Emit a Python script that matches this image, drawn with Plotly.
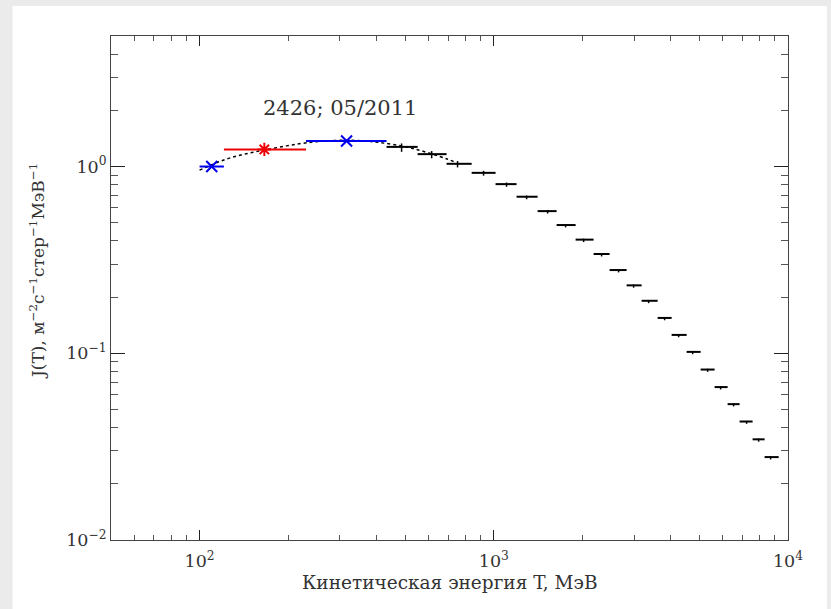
import plotly.graph_objects as go

# --- black points: energy bins (MeV), intensities and error bars ---
E_black = [486, 615, 753, 923, 1105, 1293, 1524, 1754, 2020, 2325, 2656,
           2987, 3360, 3807, 4249, 4741, 5331, 5902, 6532, 7233, 7946, 8728]
E_black_lo = [432, 551, 691, 841, 1014, 1195, 1409, 1635, 1897, 2184, 2475,
              2828, 3180, 3605, 4022, 4523, 5047, 5630, 6233, 6847, 7580, 8326]
E_black_hi = [551, 691, 841, 1014, 1195, 1409, 1635, 1897, 2184, 2475, 2828,
              3180, 3605, 4022, 4523, 5047, 5630, 6233, 6847, 7580, 8326, 9293]
J_black = [1.274, 1.165, 1.034, 0.925, 0.805, 0.689, 0.577, 0.486, 0.406, 0.340, 0.279,
           0.231, 0.191, 0.1546, 0.1254, 0.1017, 0.0818, 0.0659, 0.0534, 0.0431, 0.0346, 0.0278]
J_black_err_up = [0.055, 0.045, 0.036, 0.023, 0.016, 0.010, 0.007, 0.006, 0.005, 0.004, 0.003,
                  0.0025, 0.002, 0.0016, 0.0013, 0.0010, 0.0008, 0.0007, 0.0005, 0.0004, 0.0003, 0.0003]
J_black_err_dn = [0.075, 0.058, 0.045, 0.032, 0.026, 0.021, 0.017, 0.014, 0.012, 0.010, 0.008,
                  0.0066, 0.0055, 0.0044, 0.0036, 0.0029, 0.0023, 0.0019, 0.0015, 0.0012, 0.0010, 0.0008]

# --- low-energy points ---
E_blue = [110, 316]
E_blue_lo = [100, 230]
E_blue_hi = [121, 432]
J_blue = [1.0, 1.371]

E_red = [166]
E_red_lo = [121]
E_red_hi = [230]
J_red = [1.234]

# --- model curve (dotted) ---
E_fit = [100, 122, 144, 166, 197, 231, 277, 337, 409, 530, 690, 746]
J_fit = [0.956, 1.09, 1.17, 1.225, 1.29, 1.34, 1.375, 1.38, 1.345, 1.25, 1.10, 1.05]

# --- axis ticks ---
x_major = [100, 1000, 10000]
x_major_text = ["10<sup>2</sup>", "10<sup>3</sup>", "10<sup>4</sup>"]
x_minor = [60, 70, 80, 90, 200, 300, 400, 500, 600, 700, 800, 900,
           2000, 3000, 4000, 5000, 6000, 7000, 8000, 9000]
y_major = [0.01, 0.1, 1]
y_major_text = ["10<sup>−2</sup>", "10<sup>−1</sup>", "10<sup>0</sup>"]
y_minor = [0.02, 0.03, 0.04, 0.05, 0.06, 0.07, 0.08, 0.09,
           0.2, 0.3, 0.4, 0.5, 0.6, 0.7, 0.8, 0.9, 2, 3, 4]

FONT = "DejaVu Serif"
TXT = "#333333"


def span(c, lo, hi):
    return [h - v for v, h in zip(c, hi)], [v - l for v, l in zip(c, lo)]


fig = go.Figure()

fig.add_trace(go.Scatter(
    x=E_fit, y=J_fit, mode="lines", line_shape="spline",
    line=dict(color="black", width=1.5, dash="dot"), hoverinfo="skip"))

bp, bm = span(E_black, E_black_lo, E_black_hi)
fig.add_trace(go.Scatter(
    x=E_black, y=J_black, mode="markers",
    marker=dict(size=1, color="black"),
    error_x=dict(type="data", symmetric=False, array=bp, arrayminus=bm,
                 color="black", thickness=2, width=0),
    error_y=dict(type="data", symmetric=False, array=J_black_err_up,
                 arrayminus=J_black_err_dn, color="black", thickness=1.5, width=0)))

rp, rm = span(E_red, E_red_lo, E_red_hi)
fig.add_trace(go.Scatter(
    x=E_red, y=J_red, mode="markers",
    marker=dict(symbol="asterisk-open", size=11, color="#ee0000",
                line=dict(color="#ee0000", width=2)),
    error_x=dict(type="data", symmetric=False, array=rp, arrayminus=rm,
                 color="#ee0000", thickness=2, width=0)))

up, um = span(E_blue, E_blue_lo, E_blue_hi)
fig.add_trace(go.Scatter(
    x=E_blue, y=J_blue, mode="markers",
    marker=dict(symbol="x-thin-open", size=11, color="#0000ee",
                line=dict(color="#0000ee", width=2)),
    error_x=dict(type="data", symmetric=False, array=up, arrayminus=um,
                 color="#0000ee", thickness=2, width=0)))

axis_common = dict(
    type="log", showgrid=False, zeroline=False,
    showline=True, linecolor="#444444", linewidth=1, mirror="ticks",
    ticks="inside", tickcolor="#222222", tickwidth=1,
    tickfont=dict(family=FONT, size=17.5, color=TXT),
)

fig.update_xaxes(
    **axis_common, range=[1.69897, 4], tickmode="array",
    tickvals=x_major, ticktext=x_major_text, ticklen=10, ticklabelstandoff=5,
    minor=dict(tickmode="array", tickvals=x_minor, ticks="inside",
               ticklen=5, tickcolor="#555555", tickwidth=1))
fig.update_yaxes(
    **axis_common, range=[-2, 0.69897], tickmode="array",
    tickvals=y_major, ticktext=y_major_text, ticklen=14,
    minor=dict(tickmode="array", tickvals=y_minor, ticks="inside",
               ticklen=7, tickcolor="#555555", tickwidth=1))

fig.add_annotation(
    text="2426; 05/2011", xref="paper", yref="paper", x=0.338, y=0.857,
    xanchor="center", yanchor="middle",
    showarrow=False, font=dict(family=FONT, size=21, color=TXT))
fig.add_annotation(
    text="Кинетическая энергия T, МэВ", xref="paper", yref="paper",
    x=0.5007, y=-0.084, showarrow=False, xanchor="center", yanchor="middle",
    font=dict(family=FONT, size=18.5, color=TXT))
fig.add_annotation(
    text="J(T), м<sup>−2</sup>с<sup>−1</sup>стер<sup>−1</sup>МэВ<sup>−1</sup>",
    xref="paper", yref="paper", x=-0.1093, y=0.5337, textangle=-90,
    showarrow=False, xanchor="center", yanchor="middle",
    font=dict(family=FONT, size=17, color=TXT))

# white card behind the whole chart
fig.add_shape(type="rect", xref="paper", yref="paper",
              x0=-0.1455, x1=1.0576, y0=-0.2, y1=1.0595,
              fillcolor="white", line=dict(width=0), layer="below")

fig.update_layout(
    width=831, height=609,
    margin=dict(l=111, r=43, t=36, b=69),
    paper_bgcolor="#ebebeb", plot_bgcolor="white",
    showlegend=False,
)

fig.write_html("out.html")
